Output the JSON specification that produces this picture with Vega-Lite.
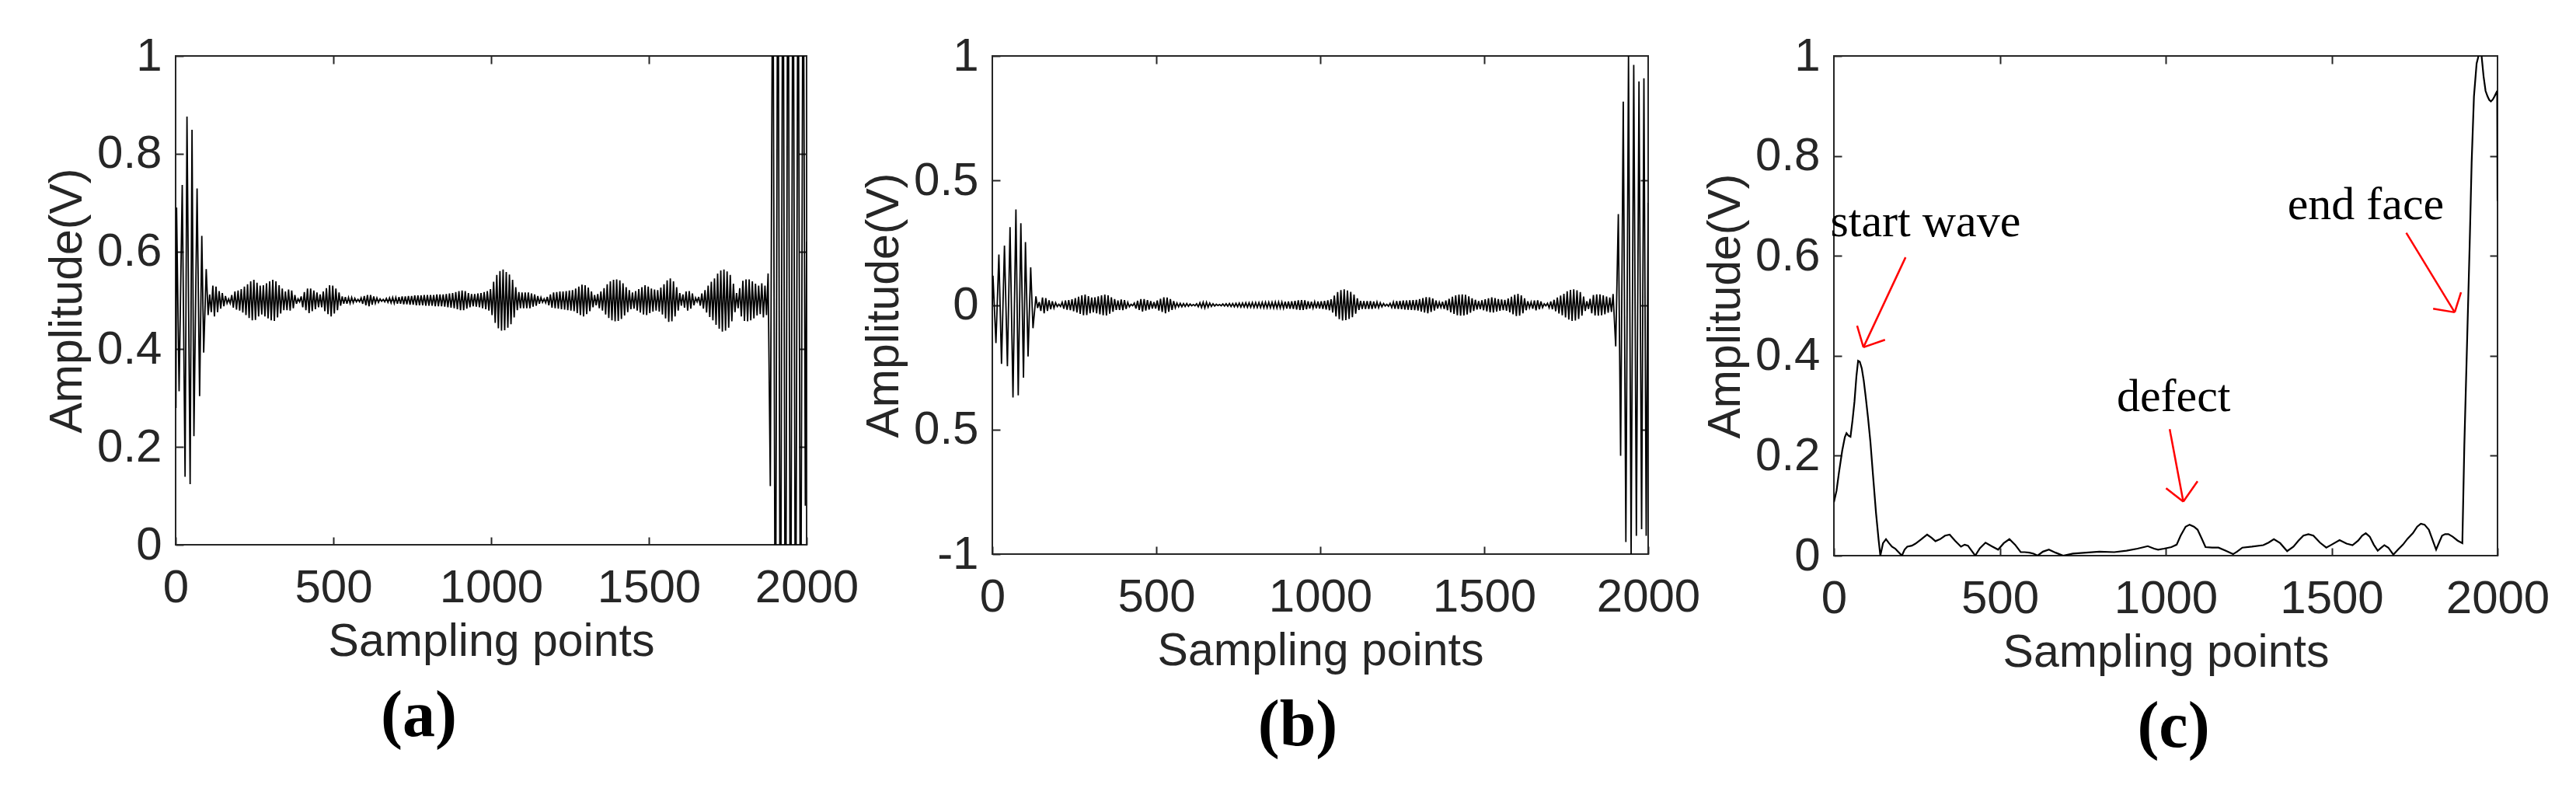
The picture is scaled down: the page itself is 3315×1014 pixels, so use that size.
{
"$schema": "https://vega.github.io/schema/vega-lite/v6.json",
"padding": {"left": 56, "top": 41, "right": 20, "bottom": 20},
"background": "white",
"spacing": 239,
"bounds": "flush",
"config": {
  "view": {"stroke": "#262626", "strokeWidth": 2},
  "axis": {"labelFlush": false, "labelOverlap": false, "labelBound": false, "grid": false, "domain": false, "tickColor": "#262626", "tickWidth": 2, "tickSize": -10, "labelFont": "Liberation Sans", "labelFontSize": 60, "labelColor": "#262626", "titleFont": "Liberation Sans", "titleFontSize": 59, "titleFontWeight": "normal", "titleColor": "#262626"},
  "axisX": {"labelPadding": 36, "titlePadding": 10},
  "axisY": {"labelPadding": 28, "titlePadding": 8}
},
"datasets": {
"wa": [{"x":0,"y":0.45},{"x":1,"y":0.28},{"x":3,"y":0.69},{"x":11,"y":0.314},{"x":21,"y":0.736},{"x":30,"y":0.139},{"x":36,"y":0.876},{"x":46,"y":0.124},{"x":52,"y":0.849},{"x":58,"y":0.222},{"x":68,"y":0.729},{"x":76,"y":0.304},{"x":83,"y":0.632},{"x":89,"y":0.393},{"x":97,"y":0.564},{"x":103,"y":0.47},
{"x":108,"y":0.512},{"x":113,"y":0.476},{"x":118,"y":0.53},{"x":123,"y":0.467},{"x":128,"y":0.528},{"x":133,"y":0.476},{"x":138,"y":0.519},{"x":143,"y":0.483},{"x":148,"y":0.515},{"x":153,"y":0.488},{"x":158,"y":0.509},{"x":163,"y":0.494},{"x":168,"y":0.503},{"x":173,"y":0.494},{"x":178,"y":0.511},{"x":183,"y":0.485},{"x":188,"y":0.518},{"x":193,"y":0.481},{"x":198,"y":0.52},{"x":203,"y":0.479},{"x":208,"y":0.523},{"x":213,"y":0.475},{"x":218,"y":0.528},{"x":223,"y":0.47},{"x":228,"y":0.533},{"x":233,"y":0.464},{"x":238,"y":0.539},{"x":243,"y":0.459},{"x":248,"y":0.542},{"x":253,"y":0.46},{"x":258,"y":0.536},{"x":263,"y":0.467},{"x":268,"y":0.53},{"x":273,"y":0.471},{"x":278,"y":0.531},{"x":283,"y":0.467},{"x":288,"y":0.535},{"x":293,"y":0.463},{"x":298,"y":0.539},{"x":303,"y":0.459},{"x":308,"y":0.542},{"x":313,"y":0.458},{"x":318,"y":0.539},{"x":323,"y":0.465},{"x":328,"y":0.531},{"x":333,"y":0.473},{"x":338,"y":0.524},{"x":343,"y":0.48},{"x":348,"y":0.518},{"x":353,"y":0.48},{"x":358,"y":0.522},{"x":363,"y":0.479},{"x":368,"y":0.52},{"x":373,"y":0.484},{"x":378,"y":0.511},{"x":383,"y":0.493},{"x":388,"y":0.503},{"x":393,"y":0.497},{"x":398,"y":0.508},{"x":403,"y":0.486},{"x":408,"y":0.517},{"x":413,"y":0.48},{"x":418,"y":0.524},{"x":423,"y":0.474},{"x":428,"y":0.524},{"x":433,"y":0.478},{"x":438,"y":0.52},{"x":443,"y":0.482},{"x":448,"y":0.516},{"x":453,"y":0.486},{"x":458,"y":0.512},{"x":463,"y":0.486},{"x":468,"y":0.518},{"x":473,"y":0.478},{"x":478,"y":0.525},{"x":483,"y":0.472},{"x":488,"y":0.531},{"x":493,"y":0.467},{"x":498,"y":0.53},{"x":503,"y":0.473},{"x":508,"y":0.524},{"x":513,"y":0.48},{"x":518,"y":0.516},{"x":523,"y":0.489},{"x":528,"y":0.508},{"x":533,"y":0.493},{"x":538,"y":0.507},{"x":543,"y":0.493},{"x":548,"y":0.506},{"x":553,"y":0.494},{"x":558,"y":0.506},{"x":563,"y":0.495},{"x":568,"y":0.504},{"x":573,"y":0.497},{"x":578,"y":0.502},{"x":583,"y":0.497},{"x":588,"y":0.505},{"x":593,"y":0.493},{"x":598,"y":0.509},{"x":603,"y":0.49},{"x":608,"y":0.511},{"x":613,"y":0.488},{"x":618,"y":0.511},{"x":623,"y":0.491},{"x":628,"y":0.508},{"x":633,"y":0.494},{"x":638,"y":0.505},{"x":643,"y":0.496},{"x":648,"y":0.503},{"x":653,"y":0.498},{"x":658,"y":0.502},{"x":663,"y":0.497},{"x":668,"y":0.504},{"x":673,"y":0.496},{"x":678,"y":0.505},{"x":683,"y":0.495},{"x":688,"y":0.506},{"x":693,"y":0.494},{"x":698,"y":0.506},{"x":703,"y":0.493},{"x":708,"y":0.507},{"x":713,"y":0.493},{"x":718,"y":0.508},{"x":723,"y":0.492},{"x":728,"y":0.508},{"x":733,"y":0.492},{"x":738,"y":0.509},{"x":743,"y":0.491},{"x":748,"y":0.509},{"x":753,"y":0.491},{"x":758,"y":0.51},{"x":763,"y":0.49},{"x":768,"y":0.51},{"x":773,"y":0.49},{"x":778,"y":0.51},{"x":783,"y":0.49},{"x":788,"y":0.511},{"x":793,"y":0.489},{"x":798,"y":0.511},{"x":803,"y":0.489},{"x":808,"y":0.511},{"x":813,"y":0.489},{"x":818,"y":0.511},{"x":823,"y":0.488},{"x":828,"y":0.512},{"x":833,"y":0.488},{"x":838,"y":0.512},{"x":843,"y":0.488},{"x":848,"y":0.512},{"x":853,"y":0.487},{"x":858,"y":0.513},{"x":863,"y":0.486},{"x":868,"y":0.514},{"x":873,"y":0.485},{"x":878,"y":0.515},{"x":883,"y":0.484},{"x":888,"y":0.517},{"x":893,"y":0.482},{"x":898,"y":0.519},{"x":903,"y":0.48},{"x":908,"y":0.52},{"x":913,"y":0.48},{"x":918,"y":0.519},{"x":923,"y":0.483},{"x":928,"y":0.515},{"x":933,"y":0.486},{"x":938,"y":0.513},{"x":943,"y":0.488},{"x":948,"y":0.513},{"x":953,"y":0.487},{"x":958,"y":0.514},{"x":963,"y":0.486},{"x":968,"y":0.515},{"x":973,"y":0.484},{"x":978,"y":0.517},{"x":983,"y":0.482},{"x":988,"y":0.519},{"x":993,"y":0.479},{"x":998,"y":0.523},{"x":1003,"y":0.47},{"x":1008,"y":0.538},{"x":1013,"y":0.454},{"x":1018,"y":0.552},{"x":1023,"y":0.443},{"x":1028,"y":0.56},{"x":1033,"y":0.438},{"x":1038,"y":0.563},{"x":1043,"y":0.439},{"x":1048,"y":0.558},{"x":1053,"y":0.444},{"x":1058,"y":0.553},{"x":1063,"y":0.451},{"x":1068,"y":0.542},{"x":1073,"y":0.465},{"x":1078,"y":0.527},{"x":1083,"y":0.48},{"x":1088,"y":0.517},{"x":1093,"y":0.484},{"x":1098,"y":0.516},{"x":1103,"y":0.484},{"x":1108,"y":0.516},{"x":1113,"y":0.484},{"x":1118,"y":0.516},{"x":1123,"y":0.484},{"x":1128,"y":0.514},{"x":1133,"y":0.487},{"x":1138,"y":0.512},{"x":1143,"y":0.489},{"x":1148,"y":0.509},{"x":1153,"y":0.493},{"x":1158,"y":0.506},{"x":1163,"y":0.496},{"x":1168,"y":0.503},{"x":1173,"y":0.495},{"x":1178,"y":0.507},{"x":1183,"y":0.49},{"x":1188,"y":0.512},{"x":1193,"y":0.485},{"x":1198,"y":0.516},{"x":1203,"y":0.484},{"x":1208,"y":0.517},{"x":1213,"y":0.483},{"x":1218,"y":0.518},{"x":1223,"y":0.482},{"x":1228,"y":0.518},{"x":1233,"y":0.481},{"x":1238,"y":0.519},{"x":1243,"y":0.48},{"x":1248,"y":0.52},{"x":1253,"y":0.479},{"x":1258,"y":0.521},{"x":1263,"y":0.478},{"x":1268,"y":0.524},{"x":1273,"y":0.474},{"x":1278,"y":0.528},{"x":1283,"y":0.47},{"x":1288,"y":0.532},{"x":1293,"y":0.467},{"x":1298,"y":0.531},{"x":1303,"y":0.472},{"x":1308,"y":0.526},{"x":1313,"y":0.478},{"x":1318,"y":0.518},{"x":1323,"y":0.486},{"x":1328,"y":0.511},{"x":1333,"y":0.49},{"x":1338,"y":0.513},{"x":1343,"y":0.484},{"x":1348,"y":0.518},{"x":1353,"y":0.479},{"x":1358,"y":0.525},{"x":1363,"y":0.471},{"x":1368,"y":0.533},{"x":1373,"y":0.464},{"x":1378,"y":0.539},{"x":1383,"y":0.459},{"x":1388,"y":0.542},{"x":1393,"y":0.457},{"x":1398,"y":0.543},{"x":1403,"y":0.458},{"x":1408,"y":0.541},{"x":1413,"y":0.462},{"x":1418,"y":0.535},{"x":1423,"y":0.469},{"x":1428,"y":0.527},{"x":1433,"y":0.476},{"x":1438,"y":0.521},{"x":1443,"y":0.482},{"x":1448,"y":0.516},{"x":1453,"y":0.483},{"x":1458,"y":0.519},{"x":1463,"y":0.479},{"x":1468,"y":0.523},{"x":1473,"y":0.475},{"x":1478,"y":0.527},{"x":1483,"y":0.471},{"x":1488,"y":0.531},{"x":1493,"y":0.47},{"x":1498,"y":0.528},{"x":1503,"y":0.474},{"x":1508,"y":0.524},{"x":1513,"y":0.477},{"x":1518,"y":0.522},{"x":1523,"y":0.479},{"x":1528,"y":0.521},{"x":1533,"y":0.477},{"x":1538,"y":0.526},{"x":1543,"y":0.471},{"x":1548,"y":0.533},{"x":1553,"y":0.463},{"x":1558,"y":0.541},{"x":1563,"y":0.456},{"x":1568,"y":0.545},{"x":1573,"y":0.457},{"x":1578,"y":0.539},{"x":1583,"y":0.467},{"x":1588,"y":0.527},{"x":1593,"y":0.479},{"x":1598,"y":0.515},{"x":1603,"y":0.489},{"x":1608,"y":0.512},{"x":1613,"y":0.485},{"x":1618,"y":0.518},{"x":1623,"y":0.479},{"x":1628,"y":0.519},{"x":1633,"y":0.483},{"x":1638,"y":0.514},{"x":1643,"y":0.49},{"x":1648,"y":0.505},{"x":1653,"y":0.497},{"x":1658,"y":0.507},{"x":1663,"y":0.489},{"x":1668,"y":0.514},{"x":1673,"y":0.483},{"x":1678,"y":0.521},{"x":1683,"y":0.475},{"x":1688,"y":0.53},{"x":1693,"y":0.466},{"x":1698,"y":0.538},{"x":1703,"y":0.459},{"x":1708,"y":0.545},{"x":1713,"y":0.45},{"x":1718,"y":0.555},{"x":1723,"y":0.442},{"x":1728,"y":0.561},{"x":1733,"y":0.436},{"x":1738,"y":0.563},{"x":1743,"y":0.438},{"x":1748,"y":0.559},{"x":1753,"y":0.444},{"x":1758,"y":0.552},{"x":1763,"y":0.457},{"x":1768,"y":0.534},{"x":1773,"y":0.476},{"x":1778,"y":0.515},{"x":1783,"y":0.484},{"x":1788,"y":0.525},{"x":1793,"y":0.467},{"x":1798,"y":0.54},{"x":1803,"y":0.458},{"x":1808,"y":0.543},{"x":1813,"y":0.457},{"x":1818,"y":0.543},{"x":1823,"y":0.459},{"x":1828,"y":0.539},{"x":1833,"y":0.463},{"x":1838,"y":0.534},{"x":1843,"y":0.469},{"x":1848,"y":0.53},{"x":1853,"y":0.472},{"x":1858,"y":0.535},{"x":1863,"y":0.465},{"x":1868,"y":0.53},{"x":1873,"y":0.47},
{"x":1878,"y":0.555},{"x":1885,"y":0.12},{"x":1893,"y":1.35},{"x":1901,"y":-0.4},{"x":1909,"y":1.45},{"x":1917,"y":-0.45},{"x":1925,"y":1.5},{"x":1933,"y":-0.5},{"x":1941,"y":1.5},{"x":1949,"y":-0.45},{"x":1957,"y":1.45},{"x":1965,"y":-0.4},{"x":1973,"y":1.4},{"x":1981,"y":-0.4},{"x":1989,"y":1.4},{"x":1996,"y":0.08},{"x":2000,"y":0.62}],
"wb": [{"x":0,"y":0},{"x":2,"y":0.118},{"x":11,"y":-0.153},{"x":20,"y":0.203},{"x":28,"y":-0.236},{"x":37,"y":0.239},{"x":46,"y":-0.246},{"x":54,"y":0.313},{"x":63,"y":-0.371},{"x":72,"y":0.384},{"x":79,"y":-0.363},{"x":87,"y":0.328},{"x":95,"y":-0.292},{"x":101,"y":0.253},{"x":109,"y":-0.207},{"x":117,"y":0.151},{"x":124,"y":-0.093},
{"x":133,"y":0.035},{"x":138,"y":-0.012},{"x":143,"y":0.012},{"x":148,"y":-0.024},{"x":153,"y":0.03},{"x":158,"y":-0.033},{"x":163,"y":0.028},{"x":168,"y":-0.024},{"x":173,"y":0.019},{"x":178,"y":-0.017},{"x":183,"y":0.015},{"x":188,"y":-0.012},{"x":193,"y":0.009},{"x":198,"y":-0.006},{"x":203,"y":0.003},{"x":208,"y":-0.006},{"x":213,"y":0.011},{"x":218,"y":-0.015},{"x":223,"y":0.018},{"x":228,"y":-0.019},{"x":233,"y":0.02},{"x":238,"y":-0.021},{"x":243,"y":0.023},{"x":248,"y":-0.025},{"x":253,"y":0.028},{"x":258,"y":-0.03},{"x":263,"y":0.033},{"x":268,"y":-0.036},{"x":273,"y":0.039},{"x":278,"y":-0.041},{"x":283,"y":0.042},{"x":288,"y":-0.04},{"x":293,"y":0.036},{"x":298,"y":-0.033},{"x":303,"y":0.03},{"x":308,"y":-0.029},{"x":313,"y":0.031},{"x":318,"y":-0.033},{"x":323,"y":0.035},{"x":328,"y":-0.037},{"x":333,"y":0.039},{"x":338,"y":-0.041},{"x":343,"y":0.042},{"x":348,"y":-0.042},{"x":353,"y":0.039},{"x":358,"y":-0.035},{"x":363,"y":0.031},{"x":368,"y":-0.027},{"x":373,"y":0.024},{"x":378,"y":-0.02},{"x":383,"y":0.018},{"x":388,"y":-0.02},{"x":393,"y":0.022},{"x":398,"y":-0.021},{"x":403,"y":0.02},{"x":408,"y":-0.016},{"x":413,"y":0.011},{"x":418,"y":-0.007},{"x":423,"y":0.003},{"x":428,"y":-0.003},{"x":433,"y":0.008},{"x":438,"y":-0.014},{"x":443,"y":0.017},{"x":448,"y":-0.02},{"x":453,"y":0.024},{"x":458,"y":-0.026},{"x":463,"y":0.024},{"x":468,"y":-0.022},{"x":473,"y":0.02},{"x":478,"y":-0.018},{"x":483,"y":0.016},{"x":488,"y":-0.014},{"x":493,"y":0.012},{"x":498,"y":-0.014},{"x":503,"y":0.018},{"x":508,"y":-0.022},{"x":513,"y":0.025},{"x":518,"y":-0.028},{"x":523,"y":0.031},{"x":528,"y":-0.033},{"x":533,"y":0.03},{"x":538,"y":-0.027},{"x":543,"y":0.024},{"x":548,"y":-0.02},{"x":553,"y":0.016},{"x":558,"y":-0.011},{"x":563,"y":0.008},{"x":568,"y":-0.007},{"x":573,"y":0.007},{"x":578,"y":-0.007},{"x":583,"y":0.006},{"x":588,"y":-0.006},{"x":593,"y":0.006},{"x":598,"y":-0.005},{"x":603,"y":0.004},{"x":608,"y":-0.003},{"x":613,"y":0.002},{"x":618,"y":-0.003},{"x":623,"y":0.005},{"x":628,"y":-0.007},{"x":633,"y":0.009},{"x":638,"y":-0.01},{"x":643,"y":0.011},{"x":648,"y":-0.012},{"x":653,"y":0.011},{"x":658,"y":-0.009},{"x":663,"y":0.008},{"x":668,"y":-0.006},{"x":673,"y":0.005},{"x":678,"y":-0.004},{"x":683,"y":0.003},{"x":688,"y":-0.002},{"x":693,"y":0.002},{"x":698,"y":-0.003},{"x":703,"y":0.004},{"x":708,"y":-0.004},{"x":713,"y":0.005},{"x":718,"y":-0.005},{"x":723,"y":0.006},{"x":728,"y":-0.006},{"x":733,"y":0.006},{"x":738,"y":-0.007},{"x":743,"y":0.007},{"x":748,"y":-0.007},{"x":753,"y":0.008},{"x":758,"y":-0.008},{"x":763,"y":0.008},{"x":768,"y":-0.008},{"x":773,"y":0.009},{"x":778,"y":-0.009},{"x":783,"y":0.009},{"x":788,"y":-0.009},{"x":793,"y":0.01},{"x":798,"y":-0.01},{"x":803,"y":0.01},{"x":808,"y":-0.01},{"x":813,"y":0.01},{"x":818,"y":-0.01},{"x":823,"y":0.011},{"x":828,"y":-0.011},{"x":833,"y":0.011},{"x":838,"y":-0.011},{"x":843,"y":0.011},{"x":848,"y":-0.011},{"x":853,"y":0.011},{"x":858,"y":-0.012},{"x":863,"y":0.012},{"x":868,"y":-0.012},{"x":873,"y":0.012},{"x":878,"y":-0.012},{"x":883,"y":0.012},{"x":888,"y":-0.013},{"x":893,"y":0.013},{"x":898,"y":-0.014},{"x":903,"y":0.014},{"x":908,"y":-0.015},{"x":913,"y":0.015},{"x":918,"y":-0.016},{"x":923,"y":0.017},{"x":928,"y":-0.018},{"x":933,"y":0.019},{"x":938,"y":-0.02},{"x":943,"y":0.02},{"x":948,"y":-0.02},{"x":953,"y":0.019},{"x":958,"y":-0.017},{"x":963,"y":0.015},{"x":968,"y":-0.014},{"x":973,"y":0.013},{"x":978,"y":-0.012},{"x":983,"y":0.013},{"x":988,"y":-0.013},{"x":993,"y":0.014},{"x":998,"y":-0.014},{"x":1003,"y":0.015},{"x":1008,"y":-0.016},{"x":1013,"y":0.017},{"x":1018,"y":-0.018},{"x":1023,"y":0.019},{"x":1028,"y":-0.021},{"x":1033,"y":0.023},{"x":1038,"y":-0.03},{"x":1043,"y":0.038},{"x":1048,"y":-0.046},{"x":1053,"y":0.052},{"x":1058,"y":-0.057},{"x":1063,"y":0.06},{"x":1068,"y":-0.062},{"x":1073,"y":0.063},{"x":1078,"y":-0.061},{"x":1083,"y":0.058},{"x":1088,"y":-0.056},{"x":1093,"y":0.053},{"x":1098,"y":-0.049},{"x":1103,"y":0.042},{"x":1108,"y":-0.035},{"x":1113,"y":0.027},{"x":1118,"y":-0.02},{"x":1123,"y":0.017},{"x":1128,"y":-0.016},{"x":1133,"y":0.016},{"x":1138,"y":-0.016},{"x":1143,"y":0.016},{"x":1148,"y":-0.016},{"x":1153,"y":0.016},{"x":1158,"y":-0.016},{"x":1163,"y":0.014},{"x":1168,"y":-0.013},{"x":1173,"y":0.012},{"x":1178,"y":-0.011},{"x":1183,"y":0.009},{"x":1188,"y":-0.007},{"x":1193,"y":0.006},{"x":1198,"y":-0.004},{"x":1203,"y":0.003},{"x":1208,"y":-0.005},{"x":1213,"y":0.007},{"x":1218,"y":-0.01},{"x":1223,"y":0.012},{"x":1228,"y":-0.015},{"x":1233,"y":0.016},{"x":1238,"y":-0.016},{"x":1243,"y":0.017},{"x":1248,"y":-0.017},{"x":1253,"y":0.018},{"x":1258,"y":-0.018},{"x":1263,"y":0.018},{"x":1268,"y":-0.019},{"x":1273,"y":0.019},{"x":1278,"y":-0.02},{"x":1283,"y":0.02},{"x":1288,"y":-0.021},{"x":1293,"y":0.021},{"x":1298,"y":-0.022},{"x":1303,"y":0.024},{"x":1308,"y":-0.026},{"x":1313,"y":0.028},{"x":1318,"y":-0.03},{"x":1323,"y":0.032},{"x":1328,"y":-0.033},{"x":1333,"y":0.031},{"x":1338,"y":-0.028},{"x":1343,"y":0.026},{"x":1348,"y":-0.022},{"x":1353,"y":0.018},{"x":1358,"y":-0.014},{"x":1363,"y":0.011},{"x":1368,"y":-0.01},{"x":1373,"y":0.013},{"x":1378,"y":-0.016},{"x":1383,"y":0.018},{"x":1388,"y":-0.021},{"x":1393,"y":0.025},{"x":1398,"y":-0.029},{"x":1403,"y":0.033},{"x":1408,"y":-0.036},{"x":1413,"y":0.039},{"x":1418,"y":-0.041},{"x":1423,"y":0.042},{"x":1428,"y":-0.043},{"x":1433,"y":0.043},{"x":1438,"y":-0.042},{"x":1443,"y":0.041},{"x":1448,"y":-0.038},{"x":1453,"y":0.035},{"x":1458,"y":-0.031},{"x":1463,"y":0.027},{"x":1468,"y":-0.024},{"x":1473,"y":0.021},{"x":1478,"y":-0.018},{"x":1483,"y":0.016},{"x":1488,"y":-0.017},{"x":1493,"y":0.019},{"x":1498,"y":-0.021},{"x":1503,"y":0.023},{"x":1508,"y":-0.025},{"x":1513,"y":0.027},{"x":1518,"y":-0.029},{"x":1523,"y":0.031},{"x":1528,"y":-0.03},{"x":1533,"y":0.028},{"x":1538,"y":-0.026},{"x":1543,"y":0.024},{"x":1548,"y":-0.023},{"x":1553,"y":0.022},{"x":1558,"y":-0.021},{"x":1563,"y":0.021},{"x":1568,"y":-0.023},{"x":1573,"y":0.026},{"x":1578,"y":-0.029},{"x":1583,"y":0.033},{"x":1588,"y":-0.037},{"x":1593,"y":0.041},{"x":1598,"y":-0.044},{"x":1603,"y":0.045},{"x":1608,"y":-0.043},{"x":1613,"y":0.039},{"x":1618,"y":-0.033},{"x":1623,"y":0.027},{"x":1628,"y":-0.021},{"x":1633,"y":0.015},{"x":1638,"y":-0.011},{"x":1643,"y":0.012},{"x":1648,"y":-0.015},{"x":1653,"y":0.018},{"x":1658,"y":-0.021},{"x":1663,"y":0.019},{"x":1668,"y":-0.017},{"x":1673,"y":0.014},{"x":1678,"y":-0.01},{"x":1683,"y":0.005},{"x":1688,"y":-0.003},{"x":1693,"y":0.007},{"x":1698,"y":-0.011},{"x":1703,"y":0.014},{"x":1708,"y":-0.017},{"x":1713,"y":0.021},{"x":1718,"y":-0.025},{"x":1723,"y":0.03},{"x":1728,"y":-0.034},{"x":1733,"y":0.038},{"x":1738,"y":-0.041},{"x":1743,"y":0.045},{"x":1748,"y":-0.05},{"x":1753,"y":0.055},{"x":1758,"y":-0.058},{"x":1763,"y":0.061},{"x":1768,"y":-0.064},{"x":1773,"y":0.063},{"x":1778,"y":-0.062},{"x":1783,"y":0.059},{"x":1788,"y":-0.056},{"x":1793,"y":0.052},{"x":1798,"y":-0.043},{"x":1803,"y":0.034},{"x":1808,"y":-0.024},{"x":1813,"y":0.015},{"x":1818,"y":-0.016},{"x":1823,"y":0.025},{"x":1828,"y":-0.033},{"x":1833,"y":0.04},{"x":1838,"y":-0.042},{"x":1843,"y":0.043},{"x":1848,"y":-0.043},{"x":1853,"y":0.043},{"x":1858,"y":-0.041},{"x":1863,"y":0.039},{"x":1868,"y":-0.037},{"x":1873,"y":0.034},{"x":1878,"y":-0.031},{"x":1883,"y":0.03},{"x":1888,"y":-0.028},
{"x":1893,"y":0.044},{"x":1901,"y":-0.166},{"x":1909,"y":0.365},{"x":1916,"y":-0.605},{"x":1924,"y":0.817},{"x":1932,"y":-0.952},{"x":1940,"y":1.0},{"x":1948,"y":-1.0},{"x":1956,"y":0.964},{"x":1964,"y":-0.927},{"x":1972,"y":0.898},{"x":1980,"y":-0.9},{"x":1987,"y":0.91},{"x":1994,"y":-0.927},{"x":2000,"y":0.41}],
"env": [{"x":0,"y":0.107},{"x":8,"y":0.13},{"x":15,"y":0.165},{"x":25,"y":0.21},{"x":33,"y":0.237},{"x":38,"y":0.245},{"x":44,"y":0.24},{"x":50,"y":0.238},{"x":56,"y":0.27},{"x":62,"y":0.308},{"x":68,"y":0.36},{"x":73,"y":0.39},{"x":78,"y":0.388},{"x":84,"y":0.375},{"x":90,"y":0.35},{"x":96,"y":0.317},{"x":103,"y":0.275},{"x":110,"y":0.228},{"x":118,"y":0.16},{"x":127,"y":0.085},{"x":135,"y":0.03},{"x":140,"y":0.0},{"x":148,"y":0.025},{"x":157,"y":0.033},{"x":166,"y":0.025},{"x":175,"y":0.018},{"x":185,"y":0.014},{"x":192,"y":0.009},{"x":205,"y":0.0},{"x":213,"y":0.012},{"x":221,"y":0.018},{"x":235,"y":0.02},{"x":246,"y":0.024},{"x":262,"y":0.032},{"x":281,"y":0.042},{"x":294,"y":0.036},{"x":306,"y":0.029},{"x":320,"y":0.033},{"x":335,"y":0.04},{"x":349,"y":0.042},{"x":365,"y":0.03},{"x":383,"y":0.018},{"x":394,"y":0.022},{"x":404,"y":0.02},{"x":415,"y":0.01},{"x":426,"y":0.0},{"x":440,"y":0.015},{"x":457,"y":0.026},{"x":475,"y":0.019},{"x":495,"y":0.012},{"x":512,"y":0.025},{"x":529,"y":0.033},{"x":546,"y":0.022},{"x":563,"y":0.007},{"x":575,"y":0.007},{"x":589,"y":0.006},{"x":602,"y":0.004},{"x":614,"y":0.0},{"x":630,"y":0.008},{"x":648,"y":0.012},{"x":668,"y":0.006},{"x":691,"y":0.0},{"x":720,"y":0.004},{"x":760,"y":0.006},{"x":800,"y":0.008},{"x":845,"y":0.007},{"x":882,"y":0.01},{"x":915,"y":0.014},{"x":946,"y":0.019},{"x":965,"y":0.014},{"x":977,"y":0.012},{"x":995,"y":0.014},{"x":1017,"y":0.017},{"x":1033,"y":0.022},{"x":1045,"y":0.04},{"x":1060,"y":0.058},{"x":1072,"y":0.062},{"x":1085,"y":0.058},{"x":1096,"y":0.052},{"x":1108,"y":0.035},{"x":1120,"y":0.017},{"x":1140,"y":0.016},{"x":1159,"y":0.016},{"x":1180,"y":0.01},{"x":1203,"y":0.003},{"x":1215,"y":0.008},{"x":1231,"y":0.016},{"x":1260,"y":0.018},{"x":1294,"y":0.021},{"x":1310,"y":0.026},{"x":1326,"y":0.033},{"x":1345,"y":0.025},{"x":1366,"y":0.009},{"x":1385,"y":0.018},{"x":1400,"y":0.03},{"x":1415,"y":0.04},{"x":1430,"y":0.043},{"x":1445,"y":0.04},{"x":1465,"y":0.026},{"x":1484,"y":0.016},{"x":1500,"y":0.022},{"x":1524,"y":0.031},{"x":1545,"y":0.024},{"x":1563,"y":0.021},{"x":1580,"y":0.03},{"x":1592,"y":0.04},{"x":1603,"y":0.045},{"x":1615,"y":0.038},{"x":1627,"y":0.022},{"x":1639,"y":0.01},{"x":1650,"y":0.016},{"x":1659,"y":0.021},{"x":1671,"y":0.016},{"x":1686,"y":0.002},{"x":1700,"y":0.012},{"x":1715,"y":0.022},{"x":1729,"y":0.034},{"x":1745,"y":0.045},{"x":1758,"y":0.058},{"x":1769,"y":0.064},{"x":1780,"y":0.062},{"x":1793,"y":0.052},{"x":1805,"y":0.03},{"x":1815,"y":0.012},{"x":1825,"y":0.028},{"x":1833,"y":0.04},{"x":1842,"y":0.043},{"x":1852,"y":0.043},{"x":1865,"y":0.038},{"x":1880,"y":0.03},{"x":1894,"y":0.025},{"x":1900,"y":0.221},{"x":1908,"y":0.42},{"x":1916,"y":0.62},{"x":1922,"y":0.786},{"x":1929,"y":0.919},{"x":1937,"y":0.985},{"x":1942,"y":0.998},{"x":1947,"y":1.01},{"x":1952,"y":1.0},{"x":1958,"y":0.959},{"x":1964,"y":0.93},{"x":1970,"y":0.919},{"x":1975,"y":0.912},{"x":1980,"y":0.909},{"x":1986,"y":0.913},{"x":1991,"y":0.919},{"x":1999,"y":0.93},{"x":2000,"y":0.71}],
"labels": [{"x":276,"y":0.639,"t":"start wave"},{"x":1024,"y":0.289,"t":"defect"},{"x":1603,"y":0.673,"t":"end face"}],
"arrows": [{"x":216,"y":0.597,"x2":89,"y2":0.417},{"x":70,"y":0.46,"x2":89,"y2":0.417},{"x":154,"y":0.432,"x2":89,"y2":0.417},{"x":1012,"y":0.253,"x2":1053,"y2":0.108},{"x":1001,"y":0.135,"x2":1053,"y2":0.108},{"x":1096,"y":0.149,"x2":1053,"y2":0.108},{"x":1725,"y":0.646,"x2":1871,"y2":0.487},{"x":1806,"y":0.494,"x2":1871,"y2":0.487},{"x":1890,"y":0.527,"x2":1871,"y2":0.487}]
},
"hconcat": [
{
 "width": 812, "height": 629,
 "title": {"text": "(a)", "orient": "bottom", "anchor": "middle", "frame": "group", "dx": -93, "offset": 26, "font": "Liberation Serif", "fontSize": 84, "fontWeight": "bold", "color": "#000000"},
 "resolve": {"axis": {"x": "independent", "y": "independent"}},
 "layer": [
  {"data": {"name": "wa"}, "mark": {"type": "line", "color": "#000000", "strokeWidth": 1.8, "clip": true},
   "encoding": {
    "x": {"field": "x", "type": "quantitative", "scale": {"domain": [0, 2000], "nice": false, "zero": false}, "axis": {"orient": "bottom", "values": [0, 500, 1000, 1500, 2000], "format": "d", "title": "Sampling points"}},
    "y": {"field": "y", "type": "quantitative", "scale": {"domain": [0, 1], "nice": false, "zero": false}, "axis": {"orient": "left", "values": [0, 0.2, 0.4, 0.6, 0.8, 1], "format": "~g", "title": "Amplitude(V)"}}
   }},
  {"data": {"values": [{"x": 0, "y": 0}]}, "mark": {"type": "point", "opacity": 0},
   "encoding": {
    "x": {"field": "x", "type": "quantitative", "scale": {"domain": [0, 2000], "nice": false, "zero": false}, "axis": {"orient": "top", "values": [500, 1000, 1500], "labels": false, "title": null}},
    "y": {"field": "y", "type": "quantitative", "scale": {"domain": [0, 1], "nice": false, "zero": false}, "axis": {"orient": "right", "values": [0.2, 0.4, 0.6, 0.8], "labels": false, "title": null}}
   }}
 ]
},
{
 "width": 844, "height": 641,
 "title": {"text": "(b)", "orient": "bottom", "anchor": "middle", "frame": "group", "dx": -29, "offset": 26, "font": "Liberation Serif", "fontSize": 84, "fontWeight": "bold", "color": "#000000"},
 "resolve": {"axis": {"x": "independent", "y": "independent"}},
 "layer": [
  {"data": {"name": "wb"}, "mark": {"type": "line", "color": "#000000", "strokeWidth": 1.8, "clip": true},
   "encoding": {
    "x": {"field": "x", "type": "quantitative", "scale": {"domain": [0, 2000], "nice": false, "zero": false}, "axis": {"orient": "bottom", "values": [0, 500, 1000, 1500, 2000], "format": "d", "title": "Sampling points"}},
    "y": {"field": "y", "type": "quantitative", "scale": {"domain": [-1, 1], "nice": false, "zero": false}, "axis": {"orient": "left", "values": [-1, -0.5, 0, 0.5, 1], "labelExpr": "datum.value == -0.5 ? '0.5' : (datum.value == -1 ? '-1' : format(datum.value, '~g'))", "title": "Amplitude(V)"}}
   }},
  {"data": {"values": [{"x": 0, "y": 0}]}, "mark": {"type": "point", "opacity": 0},
   "encoding": {
    "x": {"field": "x", "type": "quantitative", "scale": {"domain": [0, 2000], "nice": false, "zero": false}, "axis": {"orient": "top", "values": [500, 1000, 1500], "labels": false, "title": null}},
    "y": {"field": "y", "type": "quantitative", "scale": {"domain": [-1, 1], "nice": false, "zero": false}, "axis": {"orient": "right", "values": [-0.5, 0, 0.5], "labels": false, "title": null}}
   }}
 ]
},
{
 "width": 854, "height": 643,
 "title": {"text": "(c)", "orient": "bottom", "anchor": "middle", "frame": "group", "dx": 10, "offset": 26, "font": "Liberation Serif", "fontSize": 84, "fontWeight": "bold", "color": "#000000"},
 "resolve": {"axis": {"x": "independent", "y": "independent"}},
 "layer": [
  {"data": {"name": "env"}, "mark": {"type": "line", "color": "#000000", "strokeWidth": 2.2, "clip": true},
   "encoding": {
    "x": {"field": "x", "type": "quantitative", "scale": {"domain": [0, 2000], "nice": false, "zero": false}, "axis": {"orient": "bottom", "values": [0, 500, 1000, 1500, 2000], "format": "d", "title": "Sampling points"}},
    "y": {"field": "y", "type": "quantitative", "scale": {"domain": [0, 1], "nice": false, "zero": false}, "axis": {"orient": "left", "values": [0, 0.2, 0.4, 0.6, 0.8, 1], "format": "~g", "title": "Amplitude(V)"}}
   }},
  {"data": {"values": [{"x": 0, "y": 0}]}, "mark": {"type": "point", "opacity": 0},
   "encoding": {
    "x": {"field": "x", "type": "quantitative", "scale": {"domain": [0, 2000], "nice": false, "zero": false}, "axis": {"orient": "top", "values": [500, 1000, 1500], "labels": false, "title": null}},
    "y": {"field": "y", "type": "quantitative", "scale": {"domain": [0, 1], "nice": false, "zero": false}, "axis": {"orient": "right", "values": [0.2, 0.4, 0.6, 0.8], "labels": false, "title": null}}
   }},
  {"data": {"name": "arrows"}, "mark": {"type": "rule", "color": "#ff0000", "strokeWidth": 2.5},
   "encoding": {
    "x": {"field": "x", "type": "quantitative", "scale": {"domain": [0, 2000], "nice": false, "zero": false}, "axis": null},
    "y": {"field": "y", "type": "quantitative", "scale": {"domain": [0, 1], "nice": false, "zero": false}, "axis": null},
    "x2": {"field": "x2"},
    "y2": {"field": "y2"}
   }},
  {"data": {"name": "labels"}, "mark": {"type": "text", "font": "Liberation Serif", "fontSize": 60, "color": "#000000", "align": "center", "baseline": "alphabetic"},
   "encoding": {
    "x": {"field": "x", "type": "quantitative", "scale": {"domain": [0, 2000], "nice": false, "zero": false}, "axis": null},
    "y": {"field": "y", "type": "quantitative", "scale": {"domain": [0, 1], "nice": false, "zero": false}, "axis": null},
    "text": {"field": "t"}
   }}
 ]
}
]
}
